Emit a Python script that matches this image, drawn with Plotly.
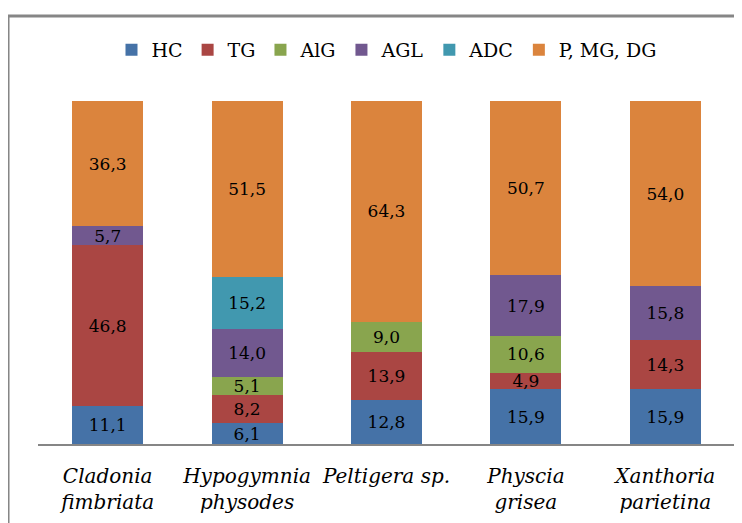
import plotly.graph_objects as go

categories = ["<i>Cladonia<br>fimbriata</i>", "<i>Hypogymnia<br>physodes</i>",
              "<i>Peltigera sp.</i>", "<i>Physcia<br>grisea</i>", "<i>Xanthoria<br>parietina</i>"]
series_names = ["HC", "TG", "AlG", "AGL", "ADC", "P, MG, DG"]
HC = [11.1, 6.1, 12.8, 15.9, 15.9]
TG = [46.8, 8.2, 13.9, 4.9, 14.3]
AlG = [0, 5.1, 9.0, 10.6, 0]
AGL = [5.7, 14.0, 0, 17.9, 15.8]
ADC = [0, 15.2, 0, 0, 0]
PMGDG = [36.3, 51.5, 64.3, 50.7, 54.0]
series_values = [HC, TG, AlG, AGL, ADC, PMGDG]
colors = ["#4572A7", "#AA4643", "#89A54E", "#71588F", "#4198AF", "#DB843D"]

FONT = "DejaVu Serif"

fig = go.Figure()
for name, vals, col in zip(series_names, series_values, colors):
    txt = [f"{v:.1f}".replace(".", ",") if v > 0 else "" for v in vals]
    fig.add_trace(go.Bar(
        x=categories, y=vals, name=name, marker=dict(color=col, line=dict(width=0)),
        text=txt, texttemplate="%{text}", textposition="inside",
        insidetextanchor="middle", textangle=0,
        textfont=dict(family=FONT, size=17, color="black"),
    ))

fig.update_layout(
    barmode="stack", bargap=0.49,
    width=742, height=523,
    margin=dict(l=30, r=15, t=93, b=87, autoexpand=False),
    paper_bgcolor="white", plot_bgcolor="white",
    font=dict(family=FONT, size=18, color="black"),
    uniformtext=dict(mode="show", minsize=17),
    showlegend=True,
    legend=dict(orientation="h", x=0.5, xanchor="center", y=1.149, yanchor="middle",
                font=dict(family=FONT, size=19), itemwidth=30, traceorder="normal"),
    xaxis=dict(showline=True, linecolor="#868686", linewidth=2, ticks="outside", ticklen=13,
               tickcolor="rgba(0,0,0,0)", showgrid=False, tickangle=0, automargin=False,
               tickfont=dict(family=FONT, size=20, color="black")),
    yaxis=dict(range=[0, 100], showticklabels=False, showgrid=False, zeroline=False,
               showline=False, ticks="", automargin=False),
    shapes=[dict(type="rect", xref="paper", yref="paper", x0=-0.043, x1=1.03,
                 y0=-0.26, y1=1.248, line=dict(color="#868686", width=3), layer="below")],
)

fig.write_html("out.html")
